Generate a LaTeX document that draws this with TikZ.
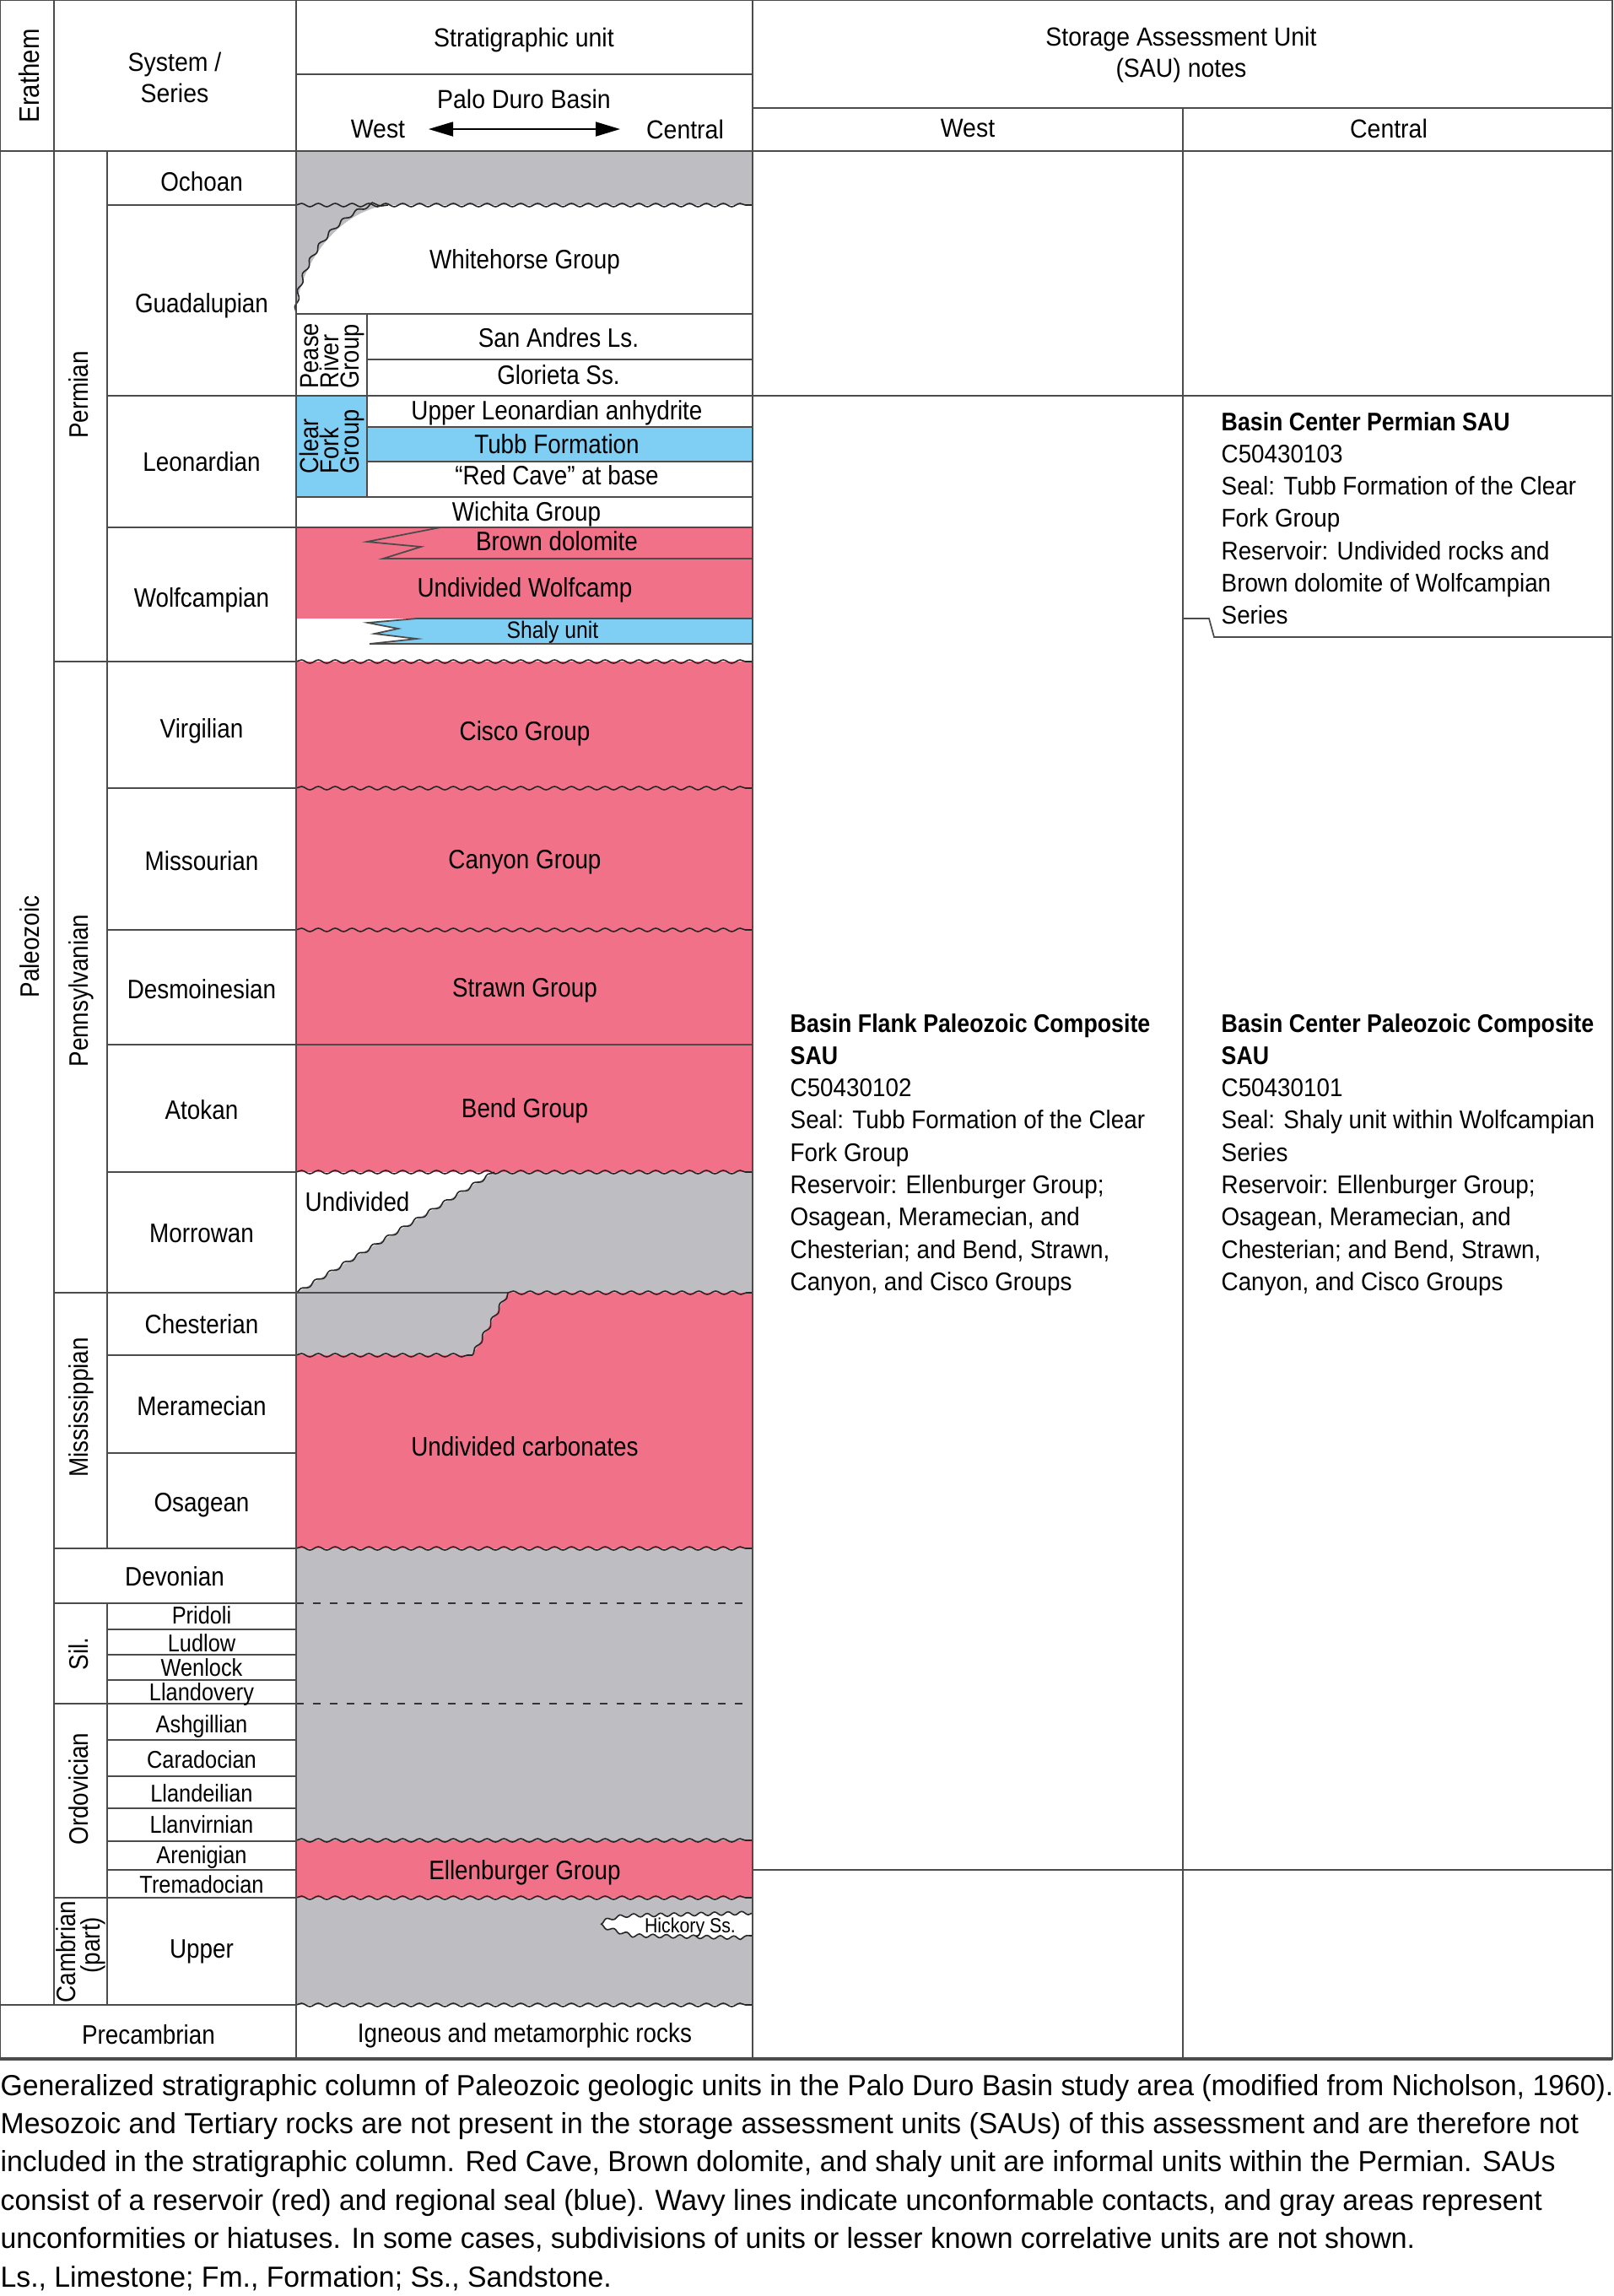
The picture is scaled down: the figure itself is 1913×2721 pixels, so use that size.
\documentclass[tikz,border=0pt]{standalone}
\usepackage{fontspec}
\setmainfont{Liberation Sans}[FakeStretch=0.88]
\newfontfamily\condfont{Liberation Sans}[FakeStretch=0.92,BoldFeatures={FakeStretch=0.885}]
\newfontfamily\capfont{Liberation Sans}[FakeStretch=0.98]
\usetikzlibrary{decorations.pathmorphing,arrows.meta}
\definecolor{unconf}{RGB}{190,190,194}
\definecolor{resv}{RGB}{241,113,137}
\definecolor{seal}{RGB}{127,207,244}
\definecolor{gridc}{RGB}{75,75,75}
\begin{document}
\begin{tikzpicture}[x=0.1mm,y=-0.1mm,
  gridln/.style={draw=gridc,line width=0.5pt},
  wavy/.style={draw=black!85,line width=0.45pt,decorate,decoration={snake,segment length=2mm,amplitude=0.2mm}},
  dashline/.style={draw=black!80,line width=0.45pt,dash pattern=on 0.9mm off 1.1mm},
  lbl/.style={inner sep=0pt,anchor=base,font=\fontsize{9}{11}\selectfont},
  slbl/.style={inner sep=0pt,anchor=base,font=\fontsize{8.2}{10}\selectfont},
  hdr/.style={inner sep=0pt,font=\condfont\fontsize{8.8}{10.8}\selectfont},
  notetxt/.style={inner sep=0pt,anchor=base west,font=\condfont\fontsize{8.6}{10.8}\selectfont},
  captxt/.style={inner sep=0pt,anchor=base west,font=\capfont\fontsize{9.8}{12.8}\selectfont},
  vlbl/.style={inner sep=0pt,rotate=90,anchor=base,font=\fontsize{9}{11}\selectfont},
  vsm/.style={inner sep=0pt,rotate=90,anchor=base west,font=\fontsize{8.8}{10}\selectfont},
  dtip/.style={{Triangle[length=2.9mm,width=1.7mm]}-{Triangle[length=2.9mm,width=1.7mm]}},
]
\useasboundingbox (0,0) rectangle (1913,2721);
\fill[white] (0,0) rectangle (1913,2721);

% ---------- fills of the stratigraphic column ----------
\fill[unconf] (351,179) rectangle (892,243);
\fill[unconf] (351,243) -- (351,370) .. controls (354,315) and (400,250) .. (460,243) -- cycle;
\fill[seal] (351,469) rectangle (435,589);
\fill[seal] (435,506) rectangle (892,547);
\fill[resv] (351,625) rectangle (892,733);
\fill[seal] (494,733) -- (892,733) -- (892,763) -- (438,763) -- (494,757) -- (444,751) -- (472,745) -- (436,738) -- cycle;
\fill[resv] (351,784) rectangle (892,1389);
\fill[unconf] (586,1389) -- (892,1389) -- (892,1532) -- (352,1532) -- cycle;
\fill[unconf] (351,1532) -- (602,1532) -- (560,1606) -- (351,1606) -- cycle;
\fill[resv] (602,1532) -- (892,1532) -- (892,1835) -- (351,1835) -- (351,1606) -- (560,1606) -- cycle;
\fill[unconf] (351,1835) rectangle (892,2181);
\fill[resv] (351,2181) rectangle (892,2249);
\fill[unconf] (351,2249) rectangle (892,2376);
\draw[fill=white,draw=black!85,line width=0.45pt,decorate,decoration={snake,segment length=1.6mm,amplitude=0.2mm}]
  (892,2267) -- (750,2270) .. controls (730,2273) .. (713,2280) .. controls (730,2286) .. (750,2291) -- (892,2294);

% ---------- contacts in the column ----------
\draw[gridln] (351,372) -- (892,372);
\draw[gridln] (435,372) -- (435,589);
\draw[gridln] (435,426) -- (892,426);
\draw[gridln] (351,469) -- (892,469);
\draw[gridln] (435,506) -- (892,506) (435,547) -- (892,547);
\draw[gridln] (351,589) -- (892,589) (351,625) -- (892,625);
\draw[gridln] (522,625) -- (435,642) -- (499,648) -- (454,662) -- (892,662);
\draw[gridln] (892,733) -- (494,733) -- (436,738) -- (472,745) -- (444,751) -- (494,757) -- (438,763) -- (892,763);
\draw[wavy] (351,243) -- (892,243);
\draw[wavy] (351,370) .. controls (354,315) and (400,250) .. (460,243);
\draw[wavy] (351,784) -- (892,784);
\draw[wavy] (351,934) -- (892,934);
\draw[wavy] (351,1102) -- (892,1102);
\draw[gridln] (351,1238) -- (892,1238);
\draw[wavy] (351,1389) -- (892,1389);
\draw[wavy] (352,1532) -- (586,1389);
\draw[gridln] (351,1532) -- (602,1532);
\draw[wavy] (602,1532) -- (892,1532);
\draw[wavy] (602,1532) -- (560,1606);
\draw[wavy] (351,1606) -- (560,1606);
\draw[wavy] (351,1835) -- (892,1835);
\draw[dashline] (351,1900) -- (892,1900) (351,2019) -- (892,2019);
\draw[wavy] (351,2181) -- (892,2181);
\draw[wavy] (351,2249) -- (892,2249);
\draw[wavy] (351,2376) -- (892,2376);

% ---------- table grid ----------
\draw[gridln] (0,0) rectangle (1911,2440);
\draw[draw=gridc,line width=0.9pt] (0,2440) -- (1911,2440);
\draw[gridln] (64,0) -- (64,2376);
\draw[gridln] (351,0) -- (351,2440);
\draw[gridln] (892,0) -- (892,2440);
\draw[gridln] (1402,128) -- (1402,2440);
\draw[gridln] (127,179) -- (127,1835) (127,1900) -- (127,2376);
\draw[gridln] (351,88) -- (892,88) (892,128) -- (1911,128) (0,179) -- (1911,179);
\foreach \y in {243,469,625,934,1102,1238,1389,1606,1722,1931,1961,1991,2062,2105,2143,2182,2216}
  \draw[gridln] (127,\y) -- (351,\y);
\foreach \y in {784,1532,1835,1900,2019,2249}
  \draw[gridln] (64,\y) -- (351,\y);
\draw[gridln] (0,2376) -- (351,2376);
\draw[gridln] (892,469) -- (1911,469) (892,2216) -- (1911,2216);
\draw[gridln] (1402,733) -- (1433,733) -- (1439,755) -- (1911,755);

% ---------- header ----------
\node[vlbl,font=\fontsize{9.5}{11}\selectfont] (erathem) at (47,90) {Erathem};
\node[hdr,align=center,font=\condfont\fontsize{8.8}{10.5}\selectfont] (sysser) at (207,92) {System /\\Series};
\node[hdr] (stratunit) at (621,47) {Stratigraphic unit};
\node[hdr] (paloduro) at (621,117) {Palo Duro Basin};
\node[hdr] (westA) at (448,153) {West};
\node[hdr] (centralA) at (812,153) {Central};
\coordinate (arrL) at (508,153);
\coordinate (arrR) at (735,153);
\draw[dtip,line width=0.5pt] (arrL) -- (arrR);
\node[hdr,align=center] (sauhdr) at (1400,65) {Storage Assessment Unit\\(SAU) notes};
\node[hdr] (westB) at (1147,152) {West};
\node[hdr] (centralB) at (1646,152) {Central};

% ---------- erathem / system labels ----------
\node[vlbl] (paleozoic) at (47,1122) {Paleozoic};
\node[vlbl] (permian) at (105,468) {Permian};
\node[vlbl] (penn) at (105,1174) {Pennsylvanian};
\node[vlbl] (miss) at (105,1668) {Mississippian};
\node[vlbl] (sil) at (105,1960) {Sil.};
\node[vlbl] (ordo) at (105,2120) {Ordovician};
\node[vlbl] (camb) at (90,2313) {Cambrian};
\node[vlbl] (part) at (118,2305) {(part)};

% ---------- series labels ----------
\node[lbl] (ochoan) at (239,226) {Ochoan};
\node[lbl] (guad) at (239,370) {Guadalupian};
\node[lbl] (leon) at (239,558) {Leonardian};
\node[lbl] (wolf) at (239,719) {Wolfcampian};
\node[lbl] (virg) at (239,874) {Virgilian};
\node[lbl] (miss2) at (239,1031) {Missourian};
\node[lbl] (desm) at (239,1183) {Desmoinesian};
\node[lbl] (atok) at (239,1326) {Atokan};
\node[lbl] (morr) at (239,1472) {Morrowan};
\node[lbl] (chest) at (239,1580) {Chesterian};
\node[lbl] (meram) at (239,1677) {Meramecian};
\node[lbl] (osag) at (239,1791) {Osagean};
\node[lbl] (devon) at (207,1879) {Devonian};
\node[slbl] (prid) at (239,1924) {Pridoli};
\node[slbl] (ludl) at (239,1957) {Ludlow};
\node[slbl] (wenl) at (239,1986) {Wenlock};
\node[slbl] (llando) at (239,2015) {Llandovery};
\node[slbl] (ashg) at (239,2053) {Ashgillian};
\node[slbl] (carad) at (239,2095) {Caradocian};
\node[slbl] (llandei) at (239,2135) {Llandeilian};
\node[slbl] (llanv) at (239,2172) {Llanvirnian};
\node[slbl] (aren) at (239,2208) {Arenigian};
\node[slbl] (trem) at (239,2243) {Tremadocian};
\node[lbl] (upper) at (239,2320) {Upper};
\node[lbl] (precamb) at (176,2422) {Precambrian};

% ---------- stratigraphic unit labels ----------
\node[vsm] (pease) at (377,461) {Pease};
\node[vsm] (river) at (401,461) {River};
\node[vsm] (groupP) at (425,461) {Group};
\node[vsm] (clear) at (377,562) {Clear};
\node[vsm] (fork) at (401,562) {Fork};
\node[vsm] (groupC) at (425,562) {Group};
\node[lbl] (white) at (622,318) {Whitehorse Group};
\node[lbl] (sanand) at (662,411) {San Andres Ls.};
\node[lbl] (glor) at (662,455) {Glorieta Ss.};
\node[lbl] (uleon) at (660,497) {Upper Leonardian anhydrite};
\node[lbl] (tubb) at (660,537) {Tubb Formation};
\node[lbl] (redcave) at (660,574) {“Red Cave” at base};
\node[lbl] (wich) at (624,617) {Wichita Group};
\node[lbl] (brown) at (660,652) {Brown dolomite};
\node[lbl] (uwolf) at (622,707) {Undivided Wolfcamp};
\node[lbl,font=\fontsize{8}{10}\selectfont] (shaly) at (655,756) {Shaly unit};
\node[lbl] (cisco) at (622,877) {Cisco Group};
\node[lbl] (canyon) at (622,1029) {Canyon Group};
\node[lbl] (strawn) at (622,1181) {Strawn Group};
\node[lbl] (bend) at (622,1324) {Bend Group};
\node[lbl,anchor=base west] (undiv) at (361,1435) {Undivided};
\node[lbl] (ucarb) at (622,1725) {Undivided carbonates};
\node[lbl] (ellen) at (622,2227) {Ellenburger Group};
\node[lbl,font=\fontsize{6.9}{8}\selectfont] (hick) at (818,2290) {Hickory Ss.};
\node[lbl] (igneous) at (622,2420) {Igneous and metamorphic rocks};

% ---------- SAU notes ----------
\foreach \t [count=\i] in {{\bfseries Basin Center Permian SAU},{C50430103},{Seal: Tubb Formation of the Clear},{Fork Group},{Reservoir: Undivided rocks and},{Brown dolomite of Wolfcampian},{Series}}
  \node[notetxt] (perm\i) at (1447,{510+(\i-1)*38.3}) {\t};
\foreach \t [count=\i] in {{\bfseries Basin Flank Paleozoic Composite},{\bfseries SAU},{C50430102},{Seal: Tubb Formation of the Clear},{Fork Group},{Reservoir: Ellenburger Group;},{Osagean, Meramecian, and},{Chesterian; and Bend, Strawn,},{Canyon, and Cisco Groups}}
  \node[notetxt] (flank\i) at (936,{1223+(\i-1)*38.3}) {\t};
\foreach \t [count=\i] in {{\bfseries Basin Center Paleozoic Composite},{\bfseries SAU},{C50430101},{Seal: Shaly unit within Wolfcampian},{Series},{Reservoir: Ellenburger Group;},{Osagean, Meramecian, and},{Chesterian; and Bend, Strawn,},{Canyon, and Cisco Groups}}
  \node[notetxt] (center\i) at (1447,{1223+(\i-1)*38.3}) {\t};

% ---------- caption ----------
\foreach \t [count=\i] in {{Generalized stratigraphic column of Paleozoic geologic units in the Palo Duro Basin study area (modified from Nicholson, 1960).},{Mesozoic and Tertiary rocks are not present in the storage assessment units (SAUs) of this assessment and are therefore not},{included in the stratigraphic column. Red Cave, Brown dolomite, and shaly unit are informal units within the Permian. SAUs},{consist of a reservoir (red) and regional seal (blue). Wavy lines indicate unconformable contacts, and gray areas represent},{unconformities or hiatuses. In some cases, subdivisions of units or lesser known correlative units are not shown.},{Ls., Limestone; Fm., Formation; Ss., Sandstone.}}
  \node[captxt] (cap\i) at (0,{2483+(\i-1)*45.4}) {\t};
\end{tikzpicture}
\end{document}
